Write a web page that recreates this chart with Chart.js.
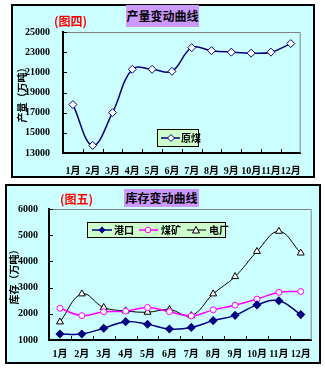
<!DOCTYPE html>
<html>
<head>
<meta charset="utf-8">
<script src="https://cdn.jsdelivr.net/npm/chart.js@4/dist/chart.umd.min.js"></script>
<style>
    body { margin: 0; background: #fff; width: 325px; height: 368px; position: relative; overflow: hidden;
           font-family: "Noto Sans CJK SC", sans-serif; }
    .box { position: absolute; background: #ccffff; border: 2px solid #000; }
    .box canvas { display: block; }
    .title { position: absolute; background: #cc99ff; font-weight: bold; font-size: 12px; line-height: 1;
             display: flex; align-items: center; justify-content: center; color: #000; }
    .tag { position: absolute; color: #ff0000; font-weight: bold; font-size: 12px; line-height: 1; }
    .legend { position: absolute; background: #ccffcc; border: 1px solid #000; display: flex; align-items: center;
              font-size: 10px; font-weight: bold; line-height: 1; white-space: nowrap; box-sizing: border-box; }
    .legend svg { display: block; flex-shrink: 0; }
    .legend span { flex-shrink: 0; }
</style>
</head>
<body>

<div class="box" style="left:11px; top:4px;"><canvas id="outputChart" width="300" height="170"></canvas></div>
<div class="title" style="left:126px; top:5px; width:73px; height:22px;">产量变动曲线</div>
<div class="tag" style="left:54px; top:15px;">(图四)</div>
<div class="legend" style="left:157px; top:129px; width:42px; height:18px;">
    <svg width="21" height="10" style="margin-left:2px"><line x1="1" y1="5" x2="20" y2="5" stroke="#000080" stroke-width="1.5"/><path d="M11 1.5 L14.5 5 L11 8.5 L7.5 5 Z" fill="#fff" stroke="#000080" stroke-width="1"/></svg>
    <span>原煤</span>
</div>

<div class="box" style="left:5px; top:184px;"><canvas id="stockChart" width="312" height="176"></canvas></div>
<div class="title" style="left:124px; top:189px; width:75px; height:18px;">库存变动曲线</div>
<div class="tag" style="left:60px; top:193px;">(图五)</div>
<div class="legend" style="left:87px; top:222px; width:139px; height:16px;">
    <svg width="22" height="10" style="margin-left:3px"><line x1="1" y1="5" x2="21" y2="5" stroke="#000080" stroke-width="1.5"/><path d="M11 1.5 L14.5 5 L11 8.5 L7.5 5 Z" fill="#000080"/></svg>
    <span style="margin-left:1px">港口</span>
    <svg width="22" height="10" style="margin-left:4px"><line x1="1" y1="5" x2="20" y2="5" stroke="#ff00ff" stroke-width="1.5"/><circle cx="10" cy="5" r="2.8" fill="#fff" stroke="#ff00ff" stroke-width="1"/></svg>
    <span style="margin-left:1px">煤矿</span>
    <svg width="22" height="10" style="margin-left:5px"><line x1="1" y1="5" x2="20" y2="5" stroke="#000" stroke-width="1"/><path d="M10 1.5 L13.5 8 L6.5 8 Z" fill="#fff" stroke="#000" stroke-width="1"/></svg>
    <span style="margin-left:1px">电厂</span>
</div>

<script>
// labels
const months = ["1月", "2月", "3月", "4月", "5月", "6月", "7月", "8月", "9月", "10月", "11月", "12月"];

// chart 4: raw coal output (万吨)
const coalOutput = [17800, 13750, 17000, 21300, 21300, 21100, 23450, 23150, 23000, 22900, 23000, 23850];

// chart 5: stocks (万吨)
const portStock  = [1230, 1230, 1450, 1700, 1600, 1420, 1480, 1740, 1940, 2340, 2500, 1970];
const mineStock  = [2210, 1930, 2080, 2100, 2240, 2080, 1920, 2150, 2330, 2560, 2820, 2850];
const plantStock = [1690, 2760, 2240, 2110, 2060, 2160, 1930, 2760, 3420, 4380, 5150, 4320];

const tickFont = { family: "'Liberation Serif', 'Noto Sans CJK SC', serif", weight: "bold" };

// gray top/right frame and small inward ticks, like the spreadsheet chart
const framePlugin = {
    id: "frame",
    beforeDatasetsDraw(chart) {
        const { ctx, chartArea: a, scales: { x, y } } = chart;
        ctx.save();
        ctx.strokeStyle = "#808080";
        ctx.lineWidth = 1;
        ctx.beginPath();
        ctx.moveTo(a.left, a.top + 0.5);
        ctx.lineTo(a.right - 0.5, a.top + 0.5);
        ctx.lineTo(a.right - 0.5, a.bottom);
        ctx.stroke();

        ctx.strokeStyle = "#000";
        ctx.beginPath();
        y.ticks.forEach(t => {
            const py = Math.round(y.getPixelForValue(t.value)) + 0.5;
            ctx.moveTo(a.left, py);
            ctx.lineTo(a.left + 4, py);
        });
        const half = (x.getPixelForValue(1) - x.getPixelForValue(0)) / 2;
        for (let i = 1; i < x.ticks.length; i++) {
            const px = Math.round(x.getPixelForValue(i) - half) + 0.5;
            ctx.moveTo(px, a.bottom);
            ctx.lineTo(px, a.bottom - 4);
        }
        ctx.stroke();
        ctx.restore();
    }
};

function buildOptions(cfg) {
    return {
        responsive: false,
        animation: false,
        layout: { padding: { top: cfg.top, right: cfg.right, left: 0, bottom: 0 } },
        plugins: { legend: { display: false }, tooltip: { enabled: false } },
        elements: { line: { tension: 0.4 } },
        scales: {
            x: {
                offset: true,
                grid: { display: false, drawTicks: false },
                border: { color: "#000", width: 2 },
                ticks: { color: "#000", font: { ...tickFont, size: 10 }, padding: cfg.xPad, maxRotation: 0, autoSkip: false },
                afterFit: s => { s.height = cfg.xHeight; }
            },
            y: {
                min: cfg.min, max: cfg.max,
                grid: { display: false, drawTicks: false },
                border: { color: "#000", width: 2 },
                ticks: {
                    stepSize: cfg.step, color: "#000", font: { ...tickFont, size: cfg.yFont }, padding: cfg.yPad,
                    callback: v => String(v)
                },
                title: {
                    display: true, text: cfg.yTitle, color: "#000",
                    font: { family: "'Noto Sans CJK SC', sans-serif", size: 10, weight: "bold" },
                    padding: { top: cfg.titlePad, bottom: 0 }
                },
                afterFit: s => { s.width = cfg.yWidth; }
            }
        }
    };
}

new Chart(document.getElementById("outputChart"), {
    type: "line",
    data: {
        labels: months,
        datasets: [{
            label: "原煤",
            data: coalOutput,
            borderColor: "#000080",
            borderWidth: 1.5,
            pointStyle: "rectRot",
            pointRadius: 4,
            pointBackgroundColor: "#ffffff",
            pointBorderColor: "#000080",
            pointBorderWidth: 1
        }]
    },
    options: buildOptions({
        top: 26, right: 6, xPad: 12, xHeight: 23, min: 13000, max: 25000, step: 2000,
        yFont: 10, yPad: 13, yTitle: "产量（万吨）", titlePad: 3, yWidth: 50
    }),
    plugins: [framePlugin]
});

new Chart(document.getElementById("stockChart"), {
    type: "line",
    data: {
        labels: months,
        datasets: [
            {
                label: "港口",
                data: portStock,
                borderColor: "#000080",
                borderWidth: 1.5,
                pointStyle: "rectRot",
                pointRadius: 3.5,
                pointBackgroundColor: "#000080",
                pointBorderColor: "#000080"
            },
            {
                label: "煤矿",
                data: mineStock,
                borderColor: "#ff00ff",
                borderWidth: 1.5,
                pointStyle: "circle",
                pointRadius: 3,
                pointBackgroundColor: "#ffffff",
                pointBorderColor: "#ff00ff",
                pointBorderWidth: 1
            },
            {
                label: "电厂",
                data: plantStock,
                borderColor: "#000000",
                borderWidth: 1,
                pointStyle: "triangle",
                pointRadius: 4,
                pointBackgroundColor: "#ffffff",
                pointBorderColor: "#000000",
                pointBorderWidth: 1
            }
        ]
    },
    options: buildOptions({
        top: 23, right: 3, xPad: 8, xHeight: 22, min: 1000, max: 6000, step: 1000,
        yFont: 10, yPad: 11, yTitle: "库存（万吨）", titlePad: 1, yWidth: 42
    }),
    plugins: [framePlugin]
});
</script>
</body>
</html>
